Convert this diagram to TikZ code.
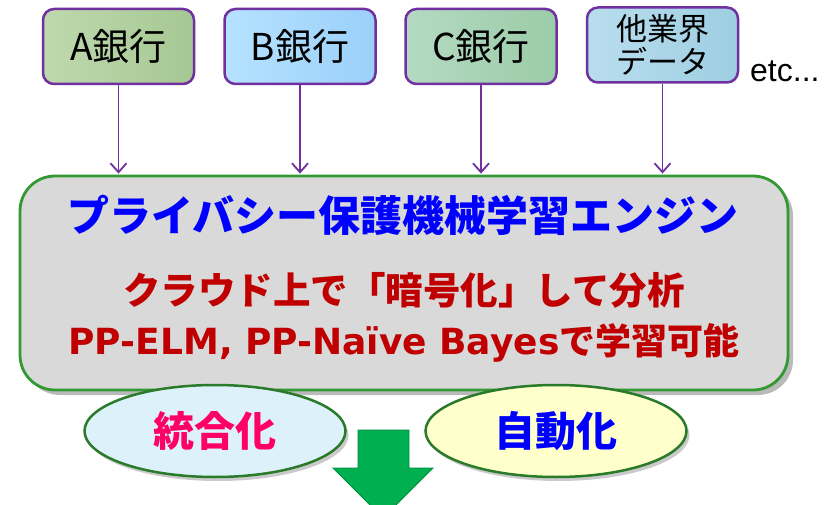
\documentclass[tikz,border=0pt]{standalone}
\usepackage{fontspec}
\setmainfont{Noto Sans CJK JP}
\newfontfamily\jp{Noto Sans CJK JP}
\newfontfamily\lat{DejaVu Sans}
\newfontfamily\arialish{Liberation Sans}
\usetikzlibrary{arrows.meta,shadows,shapes.geometric}
\definecolor{boxpurple}{HTML}{7030A0}
\definecolor{aL}{HTML}{BFD9AE}\definecolor{aR}{HTML}{A5C893}
\definecolor{bL}{HTML}{B6E2FF}\definecolor{bR}{HTML}{9BD0FA}
\definecolor{cL}{HTML}{B4DAC1}\definecolor{cR}{HTML}{9BCCA8}
\definecolor{dL}{HTML}{B9DEEE}\definecolor{dR}{HTML}{9ECEE2}
\definecolor{maingray}{HTML}{D9D9D9}
\definecolor{maingreen}{HTML}{339933}
\definecolor{titleblue}{HTML}{0000FF}
\definecolor{txtred}{HTML}{C00000}
\definecolor{txtpink}{HTML}{FF0066}
\definecolor{ellblue}{HTML}{DDF1FA}
\definecolor{ellyellow}{HTML}{FFFFCC}
\definecolor{arrgreen}{HTML}{00B050}
\tikzset{
  srcbox/.style={draw=boxpurple, line width=2.5pt, rounded corners=11pt,
    minimum width=151pt, minimum height=75pt, inner sep=0pt,
    font=\jp\fontsize{37}{37}\selectfont, align=center},
  feed/.style={draw=boxpurple, line width=1.8pt, -{Straight Barb[length=9pt,width=16pt,line width=1.8pt]}},
  mainbox/.style={draw=maingreen, line width=2.8pt, fill=maingray, rounded corners=35pt,
    minimum width=768pt, minimum height=214pt,
    drop shadow={shadow xshift=5pt, shadow yshift=-5pt, opacity=0.45, fill=black!60}},
  goal/.style={ellipse, draw=maingreen!80!black, line width=2.5pt, minimum width=261pt, minimum height=92pt, inner sep=0pt,
    font=\jp\bfseries\fontsize{41}{41}\selectfont,
    drop shadow={shadow xshift=3pt, shadow yshift=-4pt, opacity=0.35, fill=black!60}},
}
\begin{document}
\begin{tikzpicture}[x=1pt,y=-1pt]
\useasboundingbox (0,0) rectangle (836,505);
\node[mainbox] (main) at (404,283) {};
\node[text=titleblue, font=\jp\bfseries\fontsize{42}{42}\selectfont] (title) at (403,215) {プライバシー保護機械学習エンジン};
\node[text=txtred, font=\jp\bfseries\fontsize{37.5}{38}\selectfont] (l2) at (404,290) {クラウド上で「暗号化」して分析};
\node[text=txtred, font=\jp\bfseries\fontsize{36}{36}\selectfont] (l3) at (404,343) {{\lat PP-ELM, PP-Naïve Bayes}で学習可能};

\node[srcbox, left color=aL, right color=aR] (a) at (118.5,46.5) {A銀行};
\node[srcbox, left color=bL, right color=bR] (b) at (300,46.5) {B銀行};
\node[srcbox, left color=cL, right color=cR] (c) at (481,46.5) {C銀行};
\node[srcbox, left color=dL, right color=dR, font=\jp\fontsize{31}{33}\selectfont] (d) at (662.5,45) {他業界\\データ};
\node[font=\arialish\fontsize{32}{32}\selectfont, anchor=base west, inner sep=0pt] (etc) at (750,82) {etc...};

\foreach \s in {a,b,c,d}
  \draw[feed] (\s.south) -- ([yshift=1pt]\s.south |- main.north);

\node[goal, fill=ellblue, text=txtpink] (g1) at (215,431) {統合化};
\node[goal, fill=ellyellow, text=titleblue] (g2) at (556,431) {自動化};

\fill[arrgreen, draw=arrgreen!80!black, line width=0.8pt]
  (358,430) -- (409,430) -- (409,468) -- (433,468) -- (383,518) -- (333,468) -- (358,468) -- cycle;
\end{tikzpicture}
\end{document}
